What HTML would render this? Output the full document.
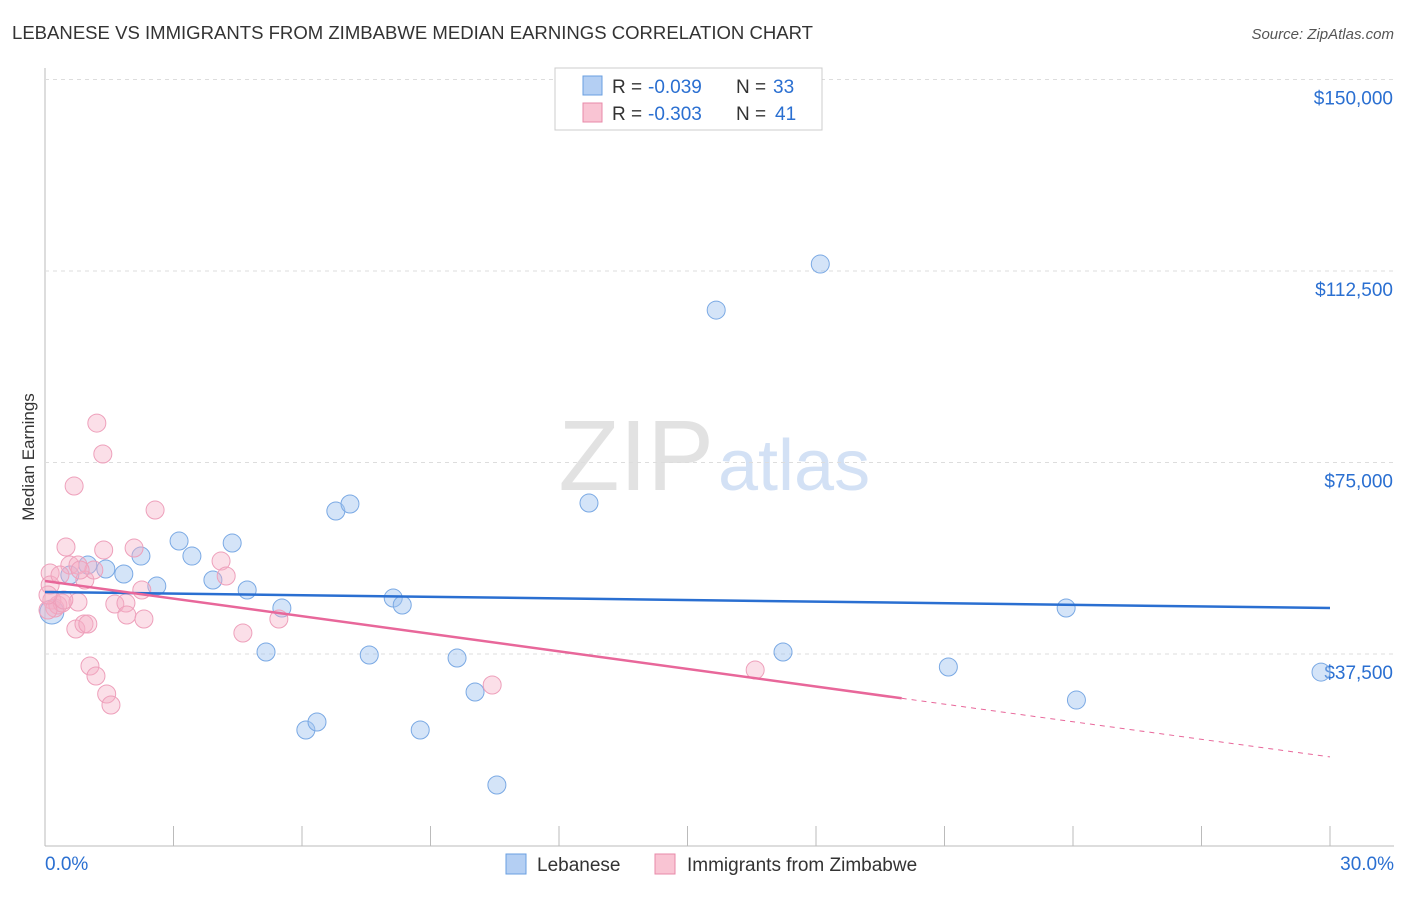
<!DOCTYPE html>
<html><head><meta charset="utf-8"><style>
body{margin:0;background:#fff;font-family:"Liberation Sans",sans-serif;}
svg text{font-family:"Liberation Sans",sans-serif;}
</style></head><body>
<svg id="chart" width="1406" height="892">
<text x="12" y="39" font-size="18" fill="#333" textLength="801" lengthAdjust="spacingAndGlyphs">LEBANESE VS IMMIGRANTS FROM ZIMBABWE MEDIAN EARNINGS CORRELATION CHART</text>
<text x="1394" y="39" font-size="15" fill="#555" font-style="italic" text-anchor="end">Source: ZipAtlas.com</text>
<text x="34" y="457" font-size="17" fill="#333" transform="rotate(-90 34 457)" text-anchor="middle">Median Earnings</text>
<text x="714" y="490" font-size="100" fill="#e2e2e2" text-anchor="end" font-family="Liberation Serif">ZIP</text>
<text x="718" y="490" font-size="72" fill="#d3e1f5">atlas</text>
<g id="grid"></g><g id="pts"></g><g id="lines"></g>
<g>
<rect x="555" y="68" width="267" height="62" fill="#fff" stroke="#ccc"/>
<rect x="583" y="76" width="19" height="19" fill="#b4cff3" stroke="#6a9fe0"/>
<text x="612" y="93" font-size="19" fill="#333">R =</text>
<text x="648" y="93" font-size="19" fill="#2a6fd1">-0.039</text>
<text x="736" y="93" font-size="19" fill="#333">N =</text>
<text x="773" y="93" font-size="19" fill="#2a6fd1">33</text>
<rect x="583" y="103" width="19" height="19" fill="#f9c4d3" stroke="#e88aa8"/>
<text x="612" y="120" font-size="19" fill="#333">R =</text>
<text x="648" y="120" font-size="19" fill="#2a6fd1">-0.303</text>
<text x="736" y="120" font-size="19" fill="#333">N =</text>
<text x="775" y="120" font-size="19" fill="#2a6fd1">41</text>
</g>
<g>
<rect x="506" y="854" width="20" height="20" fill="#b4cff3" stroke="#6a9fe0"/>
<text x="537" y="871" font-size="19" fill="#333">Lebanese</text>
<rect x="655" y="854" width="20" height="20" fill="#f9c4d3" stroke="#e88aa8"/>
<text x="687" y="871" font-size="19" fill="#333">Immigrants from Zimbabwe</text>
</g>
</svg>
<script>
const yTicks=[37500,75000,112500,150000];
const yTickLabels=["$37,500","$75,000","$112,500","$150,000"];
const blueX=[0.16,0.58,1.00,1.42,1.84,2.24,2.61,3.13,3.43,3.92,4.37,4.72,5.16,5.53,6.09,6.35,6.79,7.12,7.57,8.13,8.34,8.76,9.62,10.04,10.55,12.70,15.67,17.23,18.10,21.09,23.84,24.08,29.79];
const blueY=[45720,52960,54920,54140,53160,56680,50810,59620,56680,51990,59230,50030,37890,46500,22620,24180,65500,66870,37300,48460,47090,22620,36710,30060,11850,67060,104850,37890,113860,34950,46500,28480,33960];
const pinkX=[0.12,0.12,0.16,0.23,0.30,0.40,0.49,0.58,0.68,0.72,0.77,0.77,0.91,0.93,1.00,1.05,1.19,1.21,1.35,1.37,1.44,1.54,1.63,1.89,1.91,2.08,2.26,2.31,2.57,4.11,4.23,4.62,5.46,10.44,16.58,0.35,1.14,0.82,0.07,0.44,0.07];
const pinkY=[53350,51010,48070,46500,47090,47480,58450,54920,70390,42400,47680,54920,43380,51990,43380,35150,33190,82720,76660,57860,29670,27510,47290,47480,45130,58250,50030,44350,65690,55700,52770,41610,44350,31430,34370,52960,53940,53940,46110,48070,49050];
const blueTrend=[49640,46500];
const pinkTrend=[51790,17350];
const NS="http://www.w3.org/2000/svg";
const X=v=>45+v/30*1285, Y=v=>845.5-v*191.5/37500;
function mk(tag,attrs,parent){const e=document.createElementNS(NS,tag);for(const k in attrs)e.setAttribute(k,attrs[k]);parent.appendChild(e);return e;}
const grid=document.getElementById('grid');
let ax=mk('line',{x1:45,y1:68,x2:45,y2:846,stroke:'#bbb'},grid);


let bx=mk('line',{x1:45,y1:846,x2:1394,y2:846,stroke:'#bbb'},grid);


yTicks.forEach((t,i)=>{
 const g=mk('line',{x1:45,y1:Y(t),x2:1394,y2:Y(t),stroke:'#ddd','stroke-dasharray':'4,4'},grid);
 
 
 const tx=mk('text',{x:1393,y:Y(t)+25,'font-size':19,fill:'#2a6fd1','text-anchor':'end'},grid);
 tx.textContent=yTickLabels[i];
 
 
});
for(let i=0;i<=10;i++){const l=mk('line',{x1:X(i*3),y1:826,x2:X(i*3),y2:846,stroke:'#bbb'},grid);
 
 }
let t0=mk('text',{x:45,y:870,'font-size':19,fill:'#2a6fd1'},grid);t0.textContent='0.0%';


let t1=mk('text',{x:1394,y:870,'font-size':19,fill:'#2a6fd1','text-anchor':'end'},grid);t1.textContent='30.0%';


const pts=document.getElementById('pts');
blueX.forEach((x,i)=>{const c=mk('circle',{cx:X(x),cy:Y(blueY[i]),r:i==0?12:9,fill:'rgba(160,196,240,0.45)',stroke:'#7aa9e4','stroke-width':1},pts);
 
 });
pinkX.forEach((x,i)=>{const c=mk('circle',{cx:X(x),cy:Y(pinkY[i]),r:9,fill:'rgba(246,176,198,0.4)',stroke:'#eea0bb','stroke-width':1},pts);
 
 });
const lines=document.getElementById('lines');
let bl=mk('line',{x1:X(0),y1:Y(blueTrend[0]),x2:X(30),y2:Y(blueTrend[1]),stroke:'#2a6fd1','stroke-width':2.5},lines);


const pm=v=>pinkTrend[0]+(pinkTrend[1]-pinkTrend[0])*v/30;
let pl=mk('line',{x1:X(0),y1:Y(pm(0)),x2:X(20),y2:Y(pm(20)),stroke:'#e8679a','stroke-width':2.5},lines);


let pd=mk('line',{x1:X(20),y1:Y(pm(20)),x2:X(30),y2:Y(pm(30)),stroke:'#e8679a','stroke-width':1,'stroke-dasharray':'5,5'},lines);


</script>
</body></html>
